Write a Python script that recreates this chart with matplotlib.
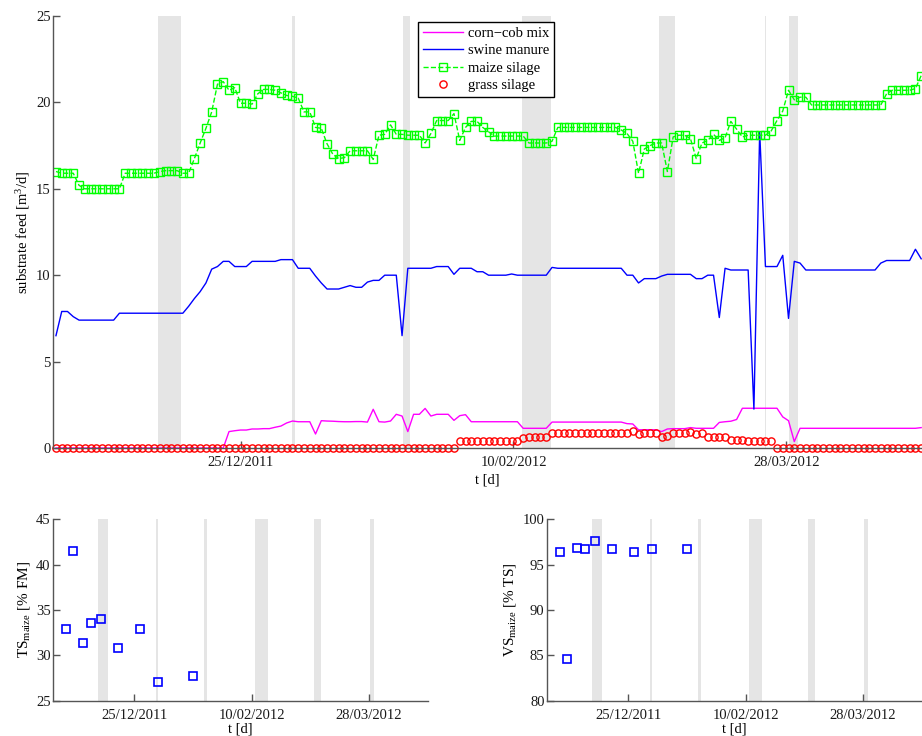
import numpy as np
import matplotlib
matplotlib.use("Agg")
import matplotlib.pyplot as plt
import matplotlib.dates as mdates
from datetime import datetime

plt.rcParams['font.family'] = ['Liberation Serif', 'DejaVu Serif']
plt.rcParams['mathtext.fontset'] = 'custom'
plt.rcParams['mathtext.rm'] = 'Liberation Serif'
plt.rcParams['mathtext.it'] = 'Liberation Serif:italic'

# daily feed log, sample 0 on 23/11/2011 (days counted from 25/12/2011)
t_start = -31.84
dt = 0.994

corn_cob_mix = ([0.0] * 30
                + [0.95, 1.0, 1.04, 1.04, 1.1, 1.1, 1.12, 1.12, 1.2, 1.27, 1.45, 1.56, 1.52, 1.52, 1.52, 0.81]
                + [1.58, 1.56, 1.55, 1.53, 1.52, 1.52, 1.53, 1.53, 1.5]
                + [2.24, 1.52, 1.5, 1.56, 1.95, 1.85, 0.95, 1.95, 1.95, 2.29, 1.85, 1.95, 1.95, 1.95, 1.6, 1.87, 1.93]
                + [1.52] * 9 + [1.14] * 5 + [1.5] * 13
                + [1.41, 1.39, 1.05, 1.06, 1.06, 1.05, 0.95, 1.1, 1.12, 1.12, 1.12, 1.18]
                + [1.14] * 4 + [1.48, 1.52, 1.55, 1.65, 2.3] + [2.3] * 6
                + [1.8, 1.58, 0.37] + [1.14] * 21 + [1.18])

swine_manure = ([6.5, 7.9, 7.9, 7.6] + [7.4] * 7 + [7.8] * 12
                + [8.2, 8.65, 9.05, 9.55, 10.35, 10.5, 10.8, 10.8, 10.5, 10.5, 10.5]
                + [10.8] * 5 + [10.9] * 3 + [10.4] * 3 + [9.95, 9.55] + [9.2] * 3
                + [9.3, 9.4, 9.3, 9.3, 9.6, 9.7, 9.7] + [10.0] * 3 + [6.5]
                + [10.4] * 5 + [10.5] * 3 + [10.05] + [10.4] * 3 + [10.2] * 2
                + [10.0] * 4 + [10.07] + [10.0] * 6 + [10.45] + [10.4] * 12
                + [10.0] * 2 + [9.55] + [9.8] * 3 + [9.95] + [10.05] * 5 + [9.8] * 2
                + [10.0] * 2 + [7.55] + [10.4] + [10.3] * 4 + [2.25, 18.3] + [10.5] * 3
                + [11.15, 7.5, 10.8, 10.7] + [10.3] * 13 + [10.7] + [10.85] * 5 + [11.5, 10.95])

maize_silage = ([16.0, 15.9, 15.9, 15.9, 15.2] + [15.0] * 7 + [15.9] * 6
                + [16.0, 16.05, 16.05, 16.05, 15.9, 15.9]
                + [16.75, 17.65, 18.5, 19.45, 21.05, 21.2, 20.7, 20.85, 19.95, 19.95, 19.9, 20.5,
                   20.75, 20.75, 20.7, 20.55, 20.4, 20.35, 20.25, 19.45, 19.45, 18.55, 18.5, 17.6,
                   17.0, 16.75, 16.8]
                + [17.2] * 4 + [16.7, 18.1, 18.15, 18.7, 18.15, 18.15] + [18.1] * 3
                + [17.65, 18.2] + [18.95] * 3 + [19.35, 17.8, 18.55, 18.9, 18.9, 18.55, 18.3]
                + [18.05] * 6 + [17.65] * 4 + [17.75] + [18.55] * 11
                + [18.4, 18.2, 17.75, 15.9, 17.3, 17.5, 17.65, 17.65, 16.0, 18.0, 18.1, 18.1,
                   17.9, 16.75, 17.65, 17.8, 18.15, 17.8, 17.95, 18.9, 18.45, 18.0]
                + [18.1] * 4 + [18.35, 18.95, 19.5, 20.7, 20.15, 20.3, 20.3] + [19.85] * 13
                + [20.5] + [20.7] * 4 + [20.8, 21.55])

grass_silage = ([0.0] * 70 + [0.4] * 10 + [0.4, 0.6] + [0.66] * 4 + [0.85] * 14
                + [0.98, 0.8, 0.85, 0.85, 0.85, 0.62, 0.71, 0.85, 0.85, 0.85, 0.92, 0.82, 0.85,
                   0.66, 0.66, 0.66, 0.62, 0.46, 0.46, 0.46]
                + [0.4] * 5 + [0.0] * 26)

# lab samples of the maize silage
sample_days = [-27.3, -24.3, -20.3, -17.3, -13.3, -6.4, 2.55, 9.65, 23.65]
ts_maize = [32.9, 41.5, 31.4, 33.6, 34.0, 30.8, 32.9, 27.1, 27.7]
vs_maize = [96.4, 84.6, 96.8, 96.7, 97.6, 96.7, 96.4, 96.7, 96.7]

# plant down-times (start, end) in days
downtimes = [(-14.3, -10.3), (8.9, 9.4), (28.0, 29.2), (48.4, 53.5),
             (72.1, 74.8), (90.35, 90.55), (94.5, 96.0)]

tick_dates = [datetime(2011, 12, 25), datetime(2012, 2, 10), datetime(2012, 3, 28)]
x_range = (-32.3, 117.4)

day0 = mdates.date2num(datetime(2011, 12, 25))
t = day0 + t_start + dt * np.arange(len(maize_silage))

FS = 10.5
AXCOL = '#555555'


def style_axes(ax, ylim, yticks, xpad=3):
    for s in ['top', 'right']:
        ax.spines[s].set_visible(False)
    for s in ['left', 'bottom']:
        ax.spines[s].set_color(AXCOL)
        ax.spines[s].set_linewidth(1.0)
    for a, b in downtimes:
        ax.axvspan(day0 + a, day0 + b, color='#e5e5e5', lw=0, zorder=0)
    ax.set_xlim(day0 + x_range[0], day0 + x_range[1])
    ax.set_ylim(*ylim)
    ax.set_yticks(yticks)
    ax.set_xticks([mdates.date2num(d) for d in tick_dates])
    ax.xaxis.set_major_formatter(mdates.DateFormatter('%d/%m/%Y'))
    ax.tick_params(direction='in', length=5, width=1, color=AXCOL,
                   labelsize=FS, labelcolor='#1a1a1a')
    ax.tick_params(axis='x', pad=6)
    ax.tick_params(axis='y', pad=2)
    ax.set_xlabel('t [d]', fontsize=FS, labelpad=xpad)


fig = plt.figure(figsize=(9.22, 7.36), dpi=100)

ax = fig.add_axes([0.0578, 0.3913, 0.9422, 0.587])
ax.plot(t, corn_cob_mix, color='magenta', lw=1.0, label='corn\u2212cob mix')
ax.plot(t, swine_manure, color='blue', lw=1.0, label='swine manure')
ax.plot(t, maize_silage, color='lime', lw=1.0, ls='--', marker='s', ms=5.5,
        mfc='none', mec='lime', mew=1.0, label='maize silage')
ax.plot(t, grass_silage, ls='none', marker='o', ms=5.2, mfc='none', mec='red',
        mew=1.0, clip_on=False, label='grass silage')
style_axes(ax, (0, 25), [0, 5, 10, 15, 20, 25])
ax.set_ylabel('substrate feed [m$^{3}$/d]', fontsize=FS, labelpad=3)
leg = ax.legend(loc='upper left', bbox_to_anchor=(0.42, 0.986), fancybox=False,
                edgecolor='black', framealpha=1, fontsize=FS, handlelength=2.75,
                handletextpad=0.3, labelspacing=0.27, borderpad=0.35, borderaxespad=0)
leg.get_frame().set_linewidth(1.0)

ax_ts = fig.add_axes([0.0578, 0.048, 0.406, 0.2465])
ax_ts.plot(day0 + np.array(sample_days), ts_maize, ls='none', marker='s', ms=5.5,
           mfc='none', mec='blue', mew=1.2)
style_axes(ax_ts, (25, 45), [25, 30, 35, 40, 45], xpad=0)
ax_ts.set_ylabel(r'TS$_{\rm maize}$ [% FM]', fontsize=FS + 0.5, labelpad=3)

ax_vs = fig.add_axes([0.5936, 0.048, 0.406, 0.2465])
ax_vs.plot(day0 + np.array(sample_days), vs_maize, ls='none', marker='s', ms=5.5,
           mfc='none', mec='blue', mew=1.2)
style_axes(ax_vs, (80, 100), [80, 85, 90, 95, 100], xpad=0)
ax_vs.set_ylabel(r'VS$_{\rm maize}$ [% TS]', fontsize=FS + 0.5, labelpad=3)

fig.savefig('out.png', dpi=100)
